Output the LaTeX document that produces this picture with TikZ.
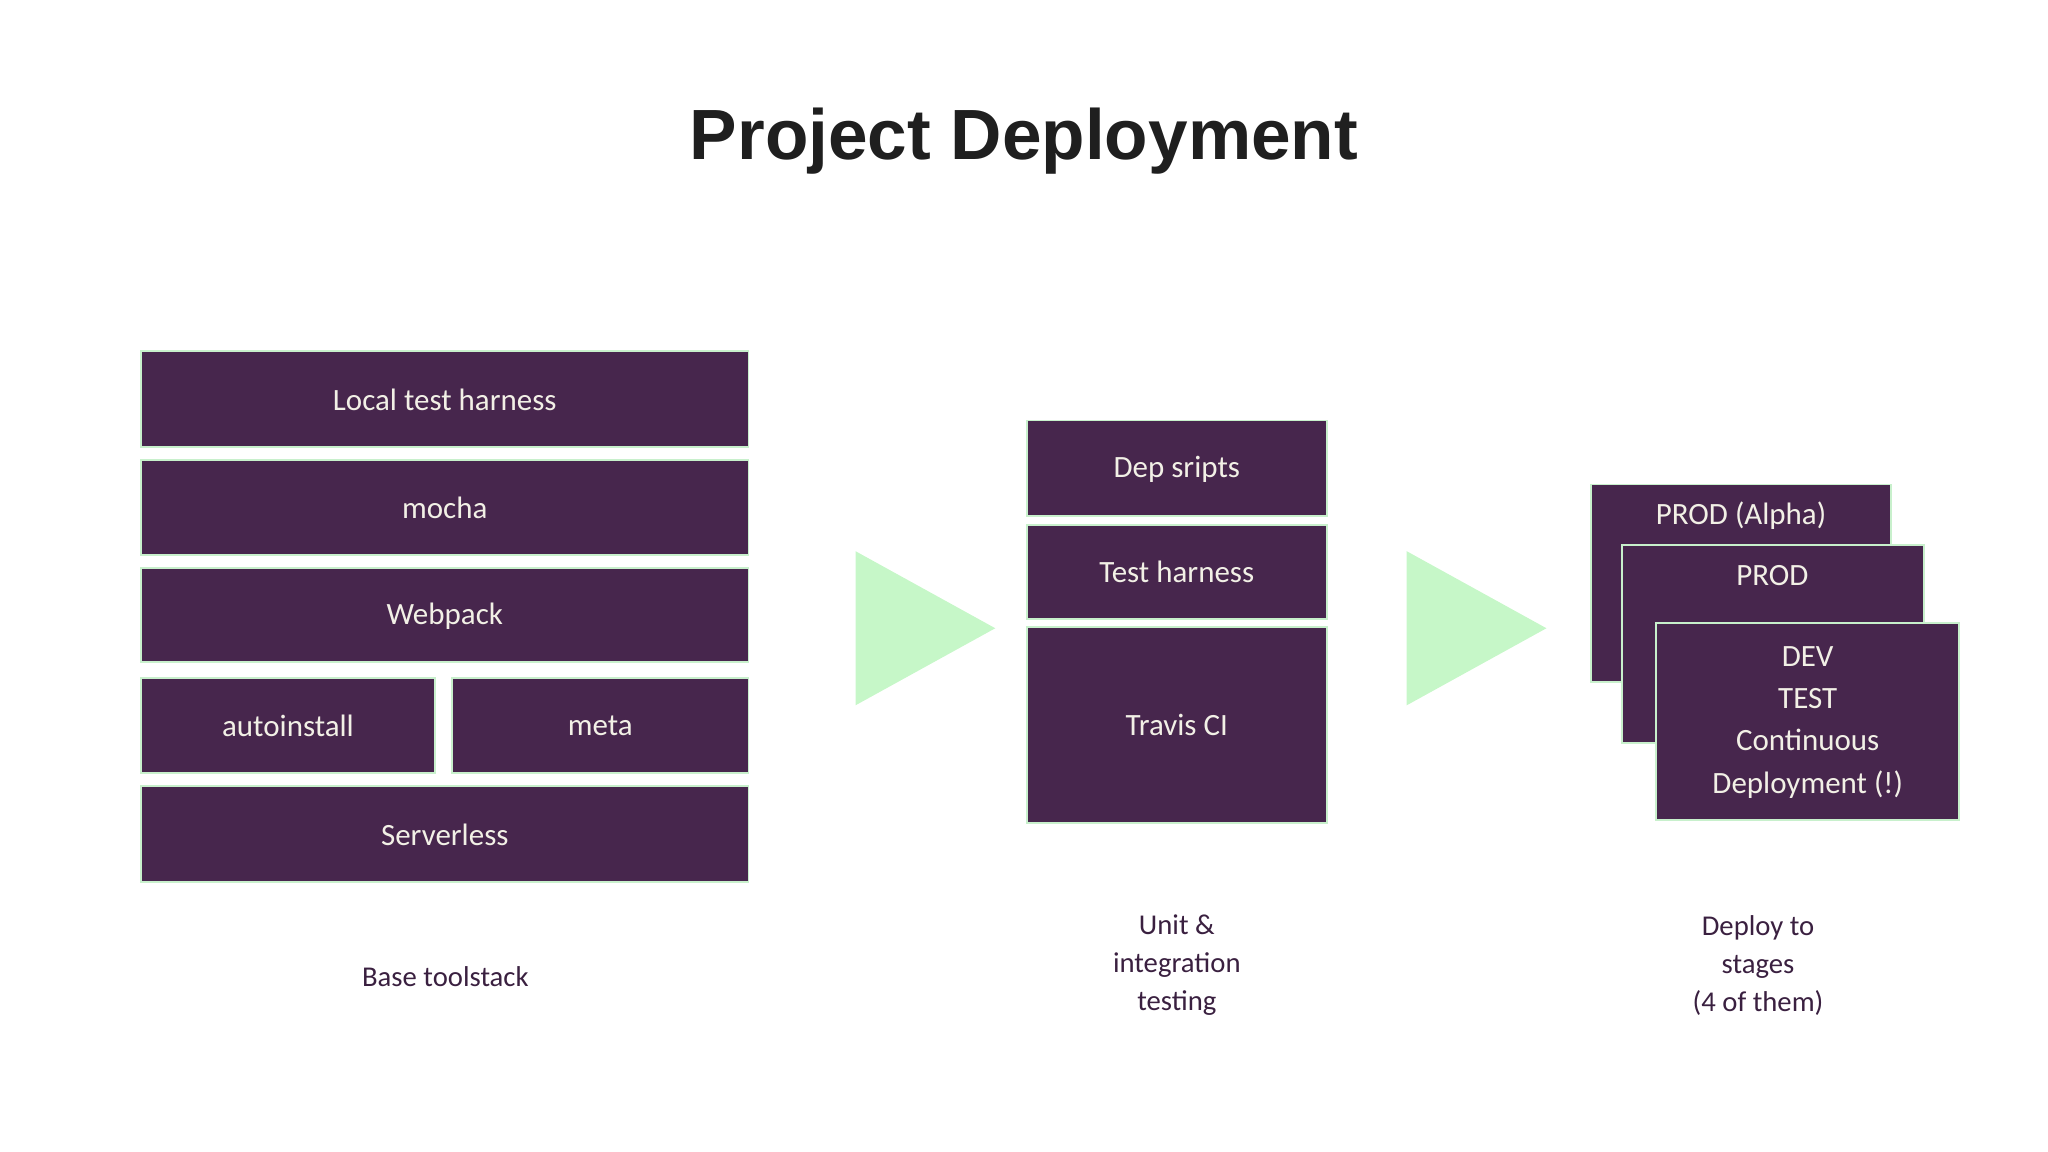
\documentclass[tikz,border=0pt]{standalone}
\usepackage{fontspec}
\setmainfont{Carlito}
\newfontfamily\titlefont{Liberation Sans}
\definecolor{boxfill}{HTML}{47264D}
\definecolor{boxline}{HTML}{C8F0CC}
\definecolor{tri}{HTML}{C6F7C8}
\definecolor{boxtext}{HTML}{F2F0E6}
\definecolor{lbl}{HTML}{3A2040}
\begin{document}
\begin{tikzpicture}[x=0.02cm,y=-0.02cm,
  blk/.style={draw=boxline,line width=0.8pt,fill=boxfill},
  btxt/.style={text=boxtext,font=\fontsize{13.5}{16}\selectfont,align=center},
  lab/.style={text=lbl,font=\fontsize{12.5}{16.5}\selectfont,align=center}]
\useasboundingbox (0,0) rectangle (1568,882);
\node[font=\titlefont\bfseries\fontsize{31}{36}\selectfont,text=black!88] (title) at (784,108) {Project Deployment};
% left stack
\draw[blk] (108,269) rectangle (573,342); \node[btxt] (a1) at (340.5,306) {Local test harness};
\draw[blk] (108,352) rectangle (573,425); \node[btxt] (a2) at (340.5,389) {mocha};
\draw[blk] (108,435) rectangle (573,507); \node[btxt] (a3) at (340.5,472) {Webpack};
\draw[blk] (108,519) rectangle (333,592); \node[btxt] (a4) at (220.5,556) {autoinstall};
\draw[blk] (346,519) rectangle (573,592); \node[btxt] (a5) at (459.5,556) {meta};
\draw[blk] (108,602) rectangle (573,675); \node[btxt] (a6) at (340.5,639) {Serverless};
% triangles
\fill[tri] (655,422) -- (655,540) -- (762,481) -- cycle;
\fill[tri] (1077,422) -- (1077,540) -- (1184,481) -- cycle;
% middle
\draw[blk] (786,322) rectangle (1016,395); \node[btxt] (b1) at (901,359) {Dep sripts};
\draw[blk] (786,402) rectangle (1016,474); \node[btxt] (b2) at (901,438) {Test harness};
\draw[blk] (786,480) rectangle (1016,630); \node[btxt] (b3) at (901,555) {Travis CI};
% right
\draw[blk] (1218,371) rectangle (1448,522); \node[btxt] (c1) at (1333,395) {PROD (Alpha)};
\draw[blk] (1242,417) rectangle (1473,569); \node[btxt] (c2) at (1357,441) {PROD};
\draw[blk] (1268,477) rectangle (1500,628);
\node[btxt,font=\fontsize{13.5}{18.5}\selectfont] (c3) at (1384,553) {DEV\\TEST\\Continuous\\Deployment (!)};
% labels
\node[lab] (l1) at (341,748) {Base toolstack};
\node[lab] (l2) at (901,739) {Unit \&\\integration\\testing};
\node[lab] (l3) at (1346,739) {Deploy to\\stages\\(4 of them)};
\end{tikzpicture}
\end{document}
